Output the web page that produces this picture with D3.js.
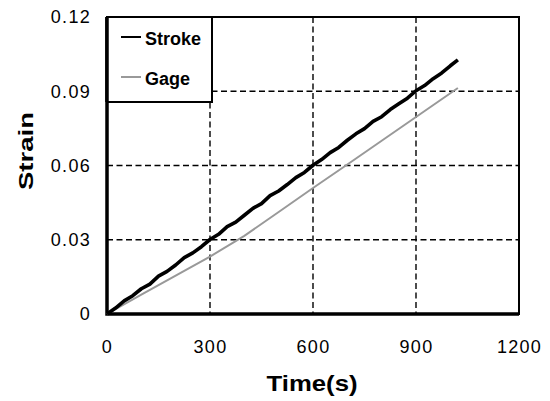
<!DOCTYPE html>
<html>
<head>
<meta charset="utf-8">
<script src="https://cdn.jsdelivr.net/npm/d3@7"></script>
<style>
  body { margin: 0; background: #fff; }
  text { font-family: "Liberation Sans", Arial, sans-serif; }
</style>
</head>
<body>
<div id="chart"></div>
<script>
// data
var strokeTime = [0, 25, 50, 75, 100, 125, 150, 175, 200, 225, 250, 275, 300, 325, 350, 375, 400,
  425, 450, 475, 500, 525, 550, 575, 600, 625, 650, 675, 700, 725, 750, 775, 800, 825, 850, 875,
  900, 925, 950, 975, 1000, 1022];
var strokeStrain = [0, 0.0024, 0.0053, 0.0074, 0.0102, 0.0121, 0.0153, 0.0172, 0.0198, 0.0228,
  0.0247, 0.0272, 0.0301, 0.0322, 0.0353, 0.0371, 0.0399, 0.0427, 0.0446, 0.0478, 0.0497, 0.0523,
  0.0551, 0.0572, 0.0601, 0.0624, 0.0652, 0.0673, 0.0702, 0.0728, 0.0749, 0.0778, 0.0797, 0.0826,
  0.0849, 0.0872, 0.0902, 0.0923, 0.0951, 0.0974, 0.1003, 0.1027];
var gageTime = [0, 100, 200, 300, 400, 500, 600, 700, 800, 900, 1000, 1022];
var gageStrain = [0, 0.0078, 0.0155, 0.0232, 0.0316, 0.0412, 0.0509, 0.0604, 0.0700, 0.0796, 0.0892, 0.0913];
var xTicks = [0, 300, 600, 900, 1200];
var yTicks = [0, 0.03, 0.06, 0.09, 0.12];
var yTickLabels = ["0", "0.03", "0.06", "0.09", "0.12"];
var seriesNames = ["Stroke", "Gage"];
var seriesColors = ["#000", "#999"];

var svg = d3.select("#chart").append("svg").attr("width", 550).attr("height", 401),
    margin = {top: 17, right: 31, bottom: 87, left: 107},
    width = 550 - margin.left - margin.right,
    height = 401 - margin.top - margin.bottom,
    g = svg.append("g").attr("transform", "translate(" + margin.left + "," + margin.top + ")");

var x = d3.scaleLinear().domain([0, 1200]).range([0, width]),
    y = d3.scaleLinear().domain([0, 0.12]).range([height, 0]);

// dashed grid
g.append("g").selectAll("line").data(xTicks.slice(1, -1)).enter().append("line")
    .attr("x1", function(d) { return x(d); }).attr("x2", function(d) { return x(d); })
    .attr("y1", 0).attr("y2", height)
    .attr("stroke", "#000").attr("stroke-width", 1.4).attr("stroke-dasharray", "6,3.5");
g.append("g").selectAll("line").data(yTicks.slice(1, -1)).enter().append("line")
    .attr("y1", function(d) { return y(d); }).attr("y2", function(d) { return y(d); })
    .attr("x1", 0).attr("x2", width)
    .attr("stroke", "#000").attr("stroke-width", 1.4).attr("stroke-dasharray", "6,3.5");

// axes
var xAxis = g.append("g").attr("transform", "translate(0," + height + ")")
    .call(d3.axisBottom(x).tickValues(xTicks).tickSize(0).tickPadding(26).tickFormat(d3.format("d")));
var yAxis = g.append("g")
    .call(d3.axisLeft(y).tickValues(yTicks).tickSize(0).tickPadding(16)
      .tickFormat(function(d, i) { return yTickLabels[i]; }));
[xAxis, yAxis].forEach(function(a) {
  a.select(".domain").remove();
  a.selectAll("text").attr("font-size", 18).attr("fill", "#000")
    .attr("letter-spacing", 1.3)
    .attr("font-family", "Liberation Sans, Arial, sans-serif");
});

// frame
g.append("rect").attr("width", width).attr("height", height)
    .attr("fill", "none").attr("stroke", "#000").attr("stroke-width", 2);
g.append("path").attr("d", "M0,0V" + height + "H" + width)
    .attr("fill", "none").attr("stroke", "#000").attr("stroke-width", 3.5);

var line = d3.line()
    .x(function(d) { return x(d[0]); })
    .y(function(d) { return y(d[1]); });

g.append("path")
    .datum(gageTime.map(function(t, i) { return [t, gageStrain[i]]; }))
    .attr("d", line).attr("fill", "none").attr("stroke", seriesColors[1]).attr("stroke-width", 2);
g.append("path")
    .datum(strokeTime.map(function(t, i) { return [t, strokeStrain[i]]; }))
    .attr("d", line).attr("fill", "none").attr("stroke", seriesColors[0])
    .attr("stroke-width", 3.6).attr("stroke-linejoin", "round");

// legend
var legend = g.append("g");
legend.append("rect").attr("x", 0).attr("y", 0).attr("width", 105).attr("height", 85)
    .attr("fill", "#fff").attr("stroke", "#000").attr("stroke-width", 2);
legend.append("path").attr("d", "M0,0V85").attr("stroke", "#000").attr("stroke-width", 3.5);
seriesNames.forEach(function(name, i) {
  var ly = 20 + i * 40;
  legend.append("line").attr("x1", 14).attr("x2", 34).attr("y1", ly).attr("y2", ly)
      .attr("stroke", seriesColors[i]).attr("stroke-width", 2);
  legend.append("text").attr("x", 38).attr("y", ly + 8)
      .attr("font-size", 18).attr("font-weight", "bold").text(name);
});

// axis titles
svg.append("text").attr("x", 312).attr("y", 391)
    .attr("text-anchor", "middle").attr("font-size", 22).attr("font-weight", "bold")
    .attr("textLength", 91).attr("lengthAdjust", "spacingAndGlyphs").text("Time(s)");
svg.append("text").attr("transform", "translate(33,151) rotate(-90)")
    .attr("text-anchor", "middle").attr("font-size", 21).attr("font-weight", "bold")
    .attr("textLength", 78).attr("lengthAdjust", "spacingAndGlyphs").text("Strain");
</script>
</body>
</html>
